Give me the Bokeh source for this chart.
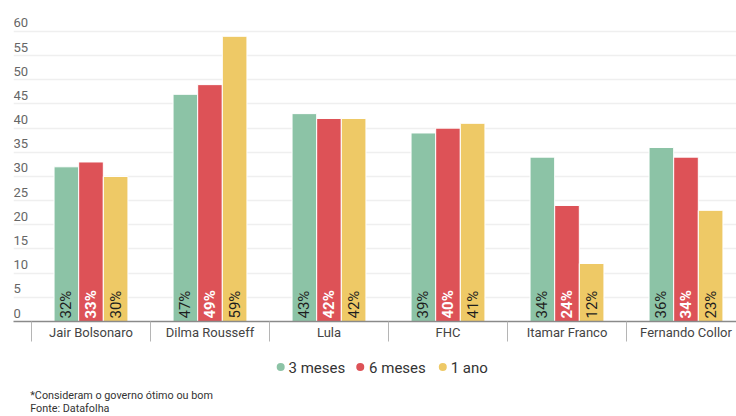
import math
from bokeh.plotting import figure
from bokeh.layouts import column
from bokeh.models import FixedTicker, ColumnDataSource, Range1d
from bokeh.core.properties import value
from bokeh.embed import file_html
from bokeh.resources import INLINE

categories = ["Jair Bolsonaro", "Dilma Rousseff", "Lula", "FHC", "Itamar Franco", "Fernando Collor"]
series_names = ["3 meses", "6 meses", "1 ano"]
m3 = [32, 47, 43, 39, 34, 36]
m6 = [33, 49, 42, 40, 24, 34]
a1 = [30, 59, 42, 41, 12, 23]
y_ticks = [0, 5, 10, 15, 20, 25, 30, 35, 40, 45, 50, 55, 60]
footnotes = ["*Consideram o governo ótimo ou bom", "Fonte: Datafolha"]

colors = ["#8cc3a6", "#dd5257", "#eec966"]
label_colors = ["#1e1e1e", "#ffffff", "#1e1e1e"]
label_styles = ["normal", "bold", "normal"]

# layout helpers (page pixels -> data units)
PX0, PXW = 31.0, 119.0
PY0, PYU = 321.0, 4.834
def ux(px):
    return (px - PX0) / PXW
def vy(py):
    return (PY0 - py) / PYU

TOP_H = 345
p = figure(width=736, height=TOP_H, output_backend="svg", toolbar_location=None,
           x_range=(ux(13), ux(736)), y_range=(0, vy(14)))
p.min_border_left = 13
p.min_border_right = 0
p.min_border_top = 14
p.min_border_bottom = TOP_H - 321
p.outline_line_color = None
p.background_fill_color = "white"
p.border_fill_color = "white"

p.yaxis.visible = False
p.xgrid.grid_line_color = None
p.ygrid.ticker = FixedTicker(ticks=y_ticks)
p.ygrid.grid_line_color = "#efefef"
p.ygrid.grid_line_width = 1.5

centers = [i + 0.5 for i in range(len(categories))]
xa = p.xaxis[0]
xa.ticker = FixedTicker(ticks=centers, minor_ticks=list(range(len(categories) + 1)))
xa.major_label_overrides = {c: n for c, n in zip(centers, categories)}
xa.major_tick_out = 0
xa.major_tick_in = 0
xa.minor_tick_in = 0
xa.minor_tick_out = 20
xa.minor_tick_line_color = "#b5b5b5"
xa.minor_tick_line_width = 1
xa.axis_line_color = "#8a8a8a"
xa.axis_line_width = 1.5
xa.major_label_text_font = "Roboto"
xa.major_label_text_font_size = "13px"
xa.major_label_text_color = "#444444"
xa.major_label_standoff = -17

# y tick labels drawn above grid lines
p.text(x=[ux(13)] * len(y_ticks), y=y_ticks, text=[str(t) for t in y_ticks],
       text_font=value("Roboto"), text_font_size="13px", text_color="#666666",
       text_align="left", text_baseline="bottom", y_offset=-4)

offsets = [-0.207, 0.0, 0.207]
for vals, off, col, lcol, sty in zip([m3, m6, a1], offsets, colors, label_colors, label_styles):
    xs = [c + off for c in centers]
    src = ColumnDataSource(dict(x=xs, top=vals, lab=[f"{v}%" for v in vals]))
    p.vbar(x="x", top="top", width=0.207, source=src, fill_color=col,
           line_color="white", line_width=1)
    p.text(x="x", y=0, text="lab", source=src, angle=math.pi / 2,
           text_font=value("Roboto"), text_font_size="15px", text_color=lcol,
           text_font_style=sty,
           text_align="left", text_baseline="middle", y_offset=-3)

# footer figure: legend + notes, coordinates in pixels (y downward)
BOT_H = 416 - TOP_H
f = figure(width=736, height=BOT_H, output_backend="svg", toolbar_location=None,
           x_range=Range1d(0, 736), y_range=Range1d(BOT_H, 0))
f.min_border = 0
f.axis.visible = False
f.grid.visible = False
f.outline_line_color = None
f.border_fill_color = "white"

leg_dot_px = [272, 353, 437]
leg_txt_px = [280, 362, 445]
leg_y = 366.5 - TOP_H
f.scatter(x=leg_dot_px, y=[leg_y] * 3, size=8, marker="circle",
          fill_color=colors, line_color=None)
f.text(x=leg_txt_px, y=[leg_y + 1] * 3, text=series_names,
       text_font=value("Roboto"), text_font_size="15px",
       text_color="#333333", text_align="left", text_baseline="middle")

f.text(x=[17, 17], y=[395 - TOP_H, 408 - TOP_H], text=footnotes,
       text_font=value("Roboto"), text_font_size="10.8px",
       text_color="#333333", text_align="left", text_baseline="middle")

layout = column(p, f, spacing=0)
open("out.html", "w").write(file_html(layout, INLINE))
